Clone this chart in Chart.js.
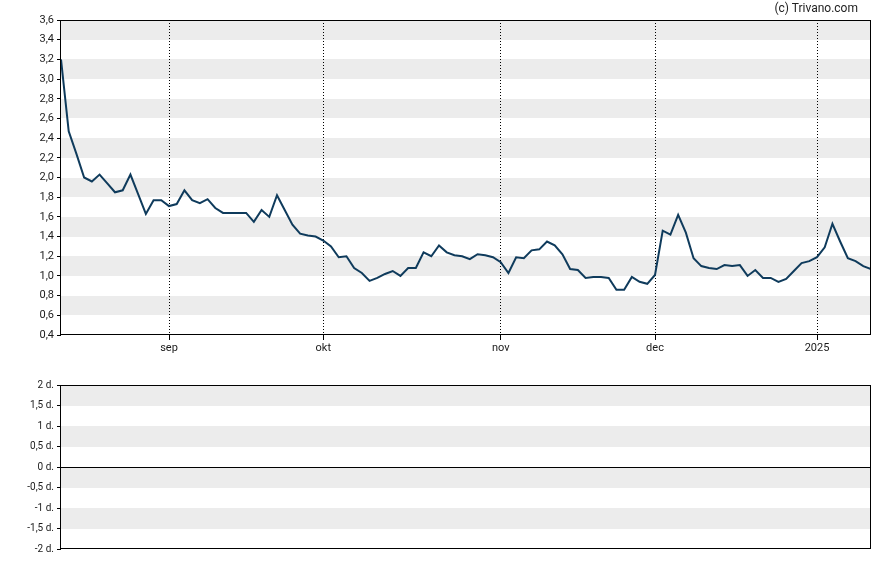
<!DOCTYPE html>
<html><head><meta charset="utf-8">
<script src="https://cdn.jsdelivr.net/npm/chart.js@4/dist/chart.umd.min.js"></script>
<style>
html,body{margin:0;padding:0;background:#fff;}
#wrap{position:relative;width:888px;height:565px;overflow:hidden;}
#c1{position:absolute;left:0;top:0;width:888px;height:365px;}
#c2{position:absolute;left:0;top:365px;width:888px;height:200px;}
#credit{position:absolute;right:30px;top:1px;font:12px Roboto, sans-serif;color:#222;}
</style></head><body>
<div id="wrap">
<canvas id="c1" width="888" height="365"></canvas>
<canvas id="c2" width="888" height="200"></canvas>
<div id="credit">(c) Trivano.com</div>
</div>
<script>
// ---- data (one value per trading day) ----
const prices = [
 3.20, 2.47, 2.24, 2.00, 1.96, 2.03, 1.94, 1.85, 1.87, 2.03,
 1.83, 1.63, 1.77, 1.77, 1.71, 1.73, 1.87, 1.77, 1.74, 1.78,
 1.69, 1.64, 1.64, 1.64, 1.64, 1.55, 1.67, 1.60, 1.82, 1.67,
 1.52, 1.43, 1.41, 1.40, 1.36, 1.30, 1.19, 1.20, 1.08, 1.03,
 0.95, 0.98, 1.02, 1.05, 1.00, 1.08, 1.08, 1.24, 1.20, 1.31,
 1.24, 1.21, 1.20, 1.17, 1.22, 1.21, 1.19, 1.14, 1.03, 1.19,
 1.18, 1.26, 1.27, 1.35, 1.31, 1.22, 1.07, 1.06, 0.98, 0.99,
 0.99, 0.98, 0.86, 0.86, 0.99, 0.94, 0.92, 1.01, 1.46, 1.42,
 1.62, 1.44, 1.18, 1.10, 1.08, 1.07, 1.11, 1.10, 1.11, 1.00,
 1.06, 0.98, 0.98, 0.94, 0.97, 1.05, 1.13, 1.15, 1.19, 1.29,
 1.53, 1.35, 1.18, 1.15, 1.10, 1.07
];
// index of the first trading day of each month, and its label
const monthIndex = [14, 34, 57, 77, 98];
const monthLabels = ['sep', 'okt', 'nov', 'dec', '2025'];
// y-axis ranges
const priceMin = 0.4, priceMax = 3.6, priceStep = 0.2;
const daysMin = -2, daysMax = 2, daysStep = 0.5;

// ---- styling ----
const BAND = '#ececec';
const LINE = '#0f3b5c';
const TXT = '#1a1a1a';
const FONT = 'Roboto, sans-serif';

const bandsPlugin = {
  id: 'bands',
  beforeDraw(chart) {
    const {ctx, chartArea: a, scales: {y}} = chart;
    const vals = y.ticks.map(t => t.value).sort((p, q) => q - p);
    ctx.save();
    ctx.fillStyle = BAND;
    for (let k = 0; k < vals.length - 1; k += 2) {
      const y1 = Math.round(y.getPixelForValue(vals[k]));
      const y2 = Math.round(y.getPixelForValue(vals[k + 1]));
      ctx.fillRect(a.left, y1, a.right - a.left, y2 - y1);
    }
    ctx.restore();
  }
};
const framePlugin = {
  id: 'frame',
  afterDraw(chart) {
    const {ctx, chartArea: a} = chart;
    ctx.save();
    ctx.strokeStyle = '#000';
    ctx.lineWidth = 1;
    ctx.strokeRect(Math.round(a.left) - 0.5, Math.round(a.top) + 0.5,
                   Math.round(a.right - a.left) + 0, Math.round(a.bottom - a.top) - 1);
    ctx.restore();
  }
};

const n = prices.length;
const points = prices.map((v, i) => ({x: i, y: v}));

new Chart(document.getElementById('c1'), {
  type: 'line',
  data: { datasets: [{ data: points, borderColor: LINE, borderWidth: 2, pointRadius: 0, tension: 0, fill: false }] },
  options: {
    responsive: false, animation: false, devicePixelRatio: 1,
    layout: { padding: { left: 0, top: 20, right: 17, bottom: 0 } },
    plugins: { legend: { display: false }, tooltip: { enabled: false } },
    scales: {
      x: {
        type: 'linear', min: 0, max: n - 1,
        afterBuildTicks: s => { s.ticks = monthIndex.map(v => ({value: v})); },
        afterFit: s => { s.height = 30; s.paddingLeft = 0; s.paddingRight = 0; },
        ticks: {
          autoSkip: false, maxRotation: 0, padding: 2, color: TXT,
          font: { family: FONT, size: 11 },
          callback: v => { const k = monthIndex.indexOf(v); return k >= 0 ? monthLabels[k] : null; }
        },
        grid: { color: '#000', lineWidth: 1, tickLength: 5, tickColor: '#000', drawOnChartArea: true },
        border: { display: false, dash: [1, 2] }
      },
      y: {
        min: priceMin, max: priceMax,
        afterFit: s => { s.width = 61; s.paddingTop = 0; s.paddingBottom = 0; },
        ticks: {
          stepSize: priceStep, autoSkip: false, padding: 3, color: TXT,
          font: { family: FONT, size: 11 },
          callback: v => v.toFixed(1).replace('.', ',')
        },
        grid: { drawOnChartArea: false, tickLength: 4, tickColor: '#000' },
        border: { display: false }
      }
    }
  },
  plugins: [bandsPlugin, framePlugin]
});

new Chart(document.getElementById('c2'), {
  type: 'line',
  data: { datasets: [] },
  options: {
    responsive: false, animation: false, devicePixelRatio: 1,
    layout: { padding: { left: 0, top: 20, right: 17, bottom: 16 } },
    plugins: { legend: { display: false }, tooltip: { enabled: false } },
    scales: {
      x: { type: 'linear', min: 0, max: n - 1, display: false },
      y: {
        min: daysMin, max: daysMax,
        afterFit: s => { s.width = 61; s.paddingTop = 0; s.paddingBottom = 0; },
        ticks: {
          stepSize: daysStep, autoSkip: false, padding: 3, color: TXT,
          font: { family: FONT, size: 10 },
          callback: v => String(v).replace('.', ',') + ' d.'
        },
        grid: {
          drawOnChartArea: true, tickLength: 4, tickColor: '#000',
          color: c => (c.tick && c.tick.value === 0) ? '#000' : 'rgba(0,0,0,0)'
        },
        border: { display: false }
      }
    }
  },
  plugins: [bandsPlugin, framePlugin]
});
</script>
</body></html>
